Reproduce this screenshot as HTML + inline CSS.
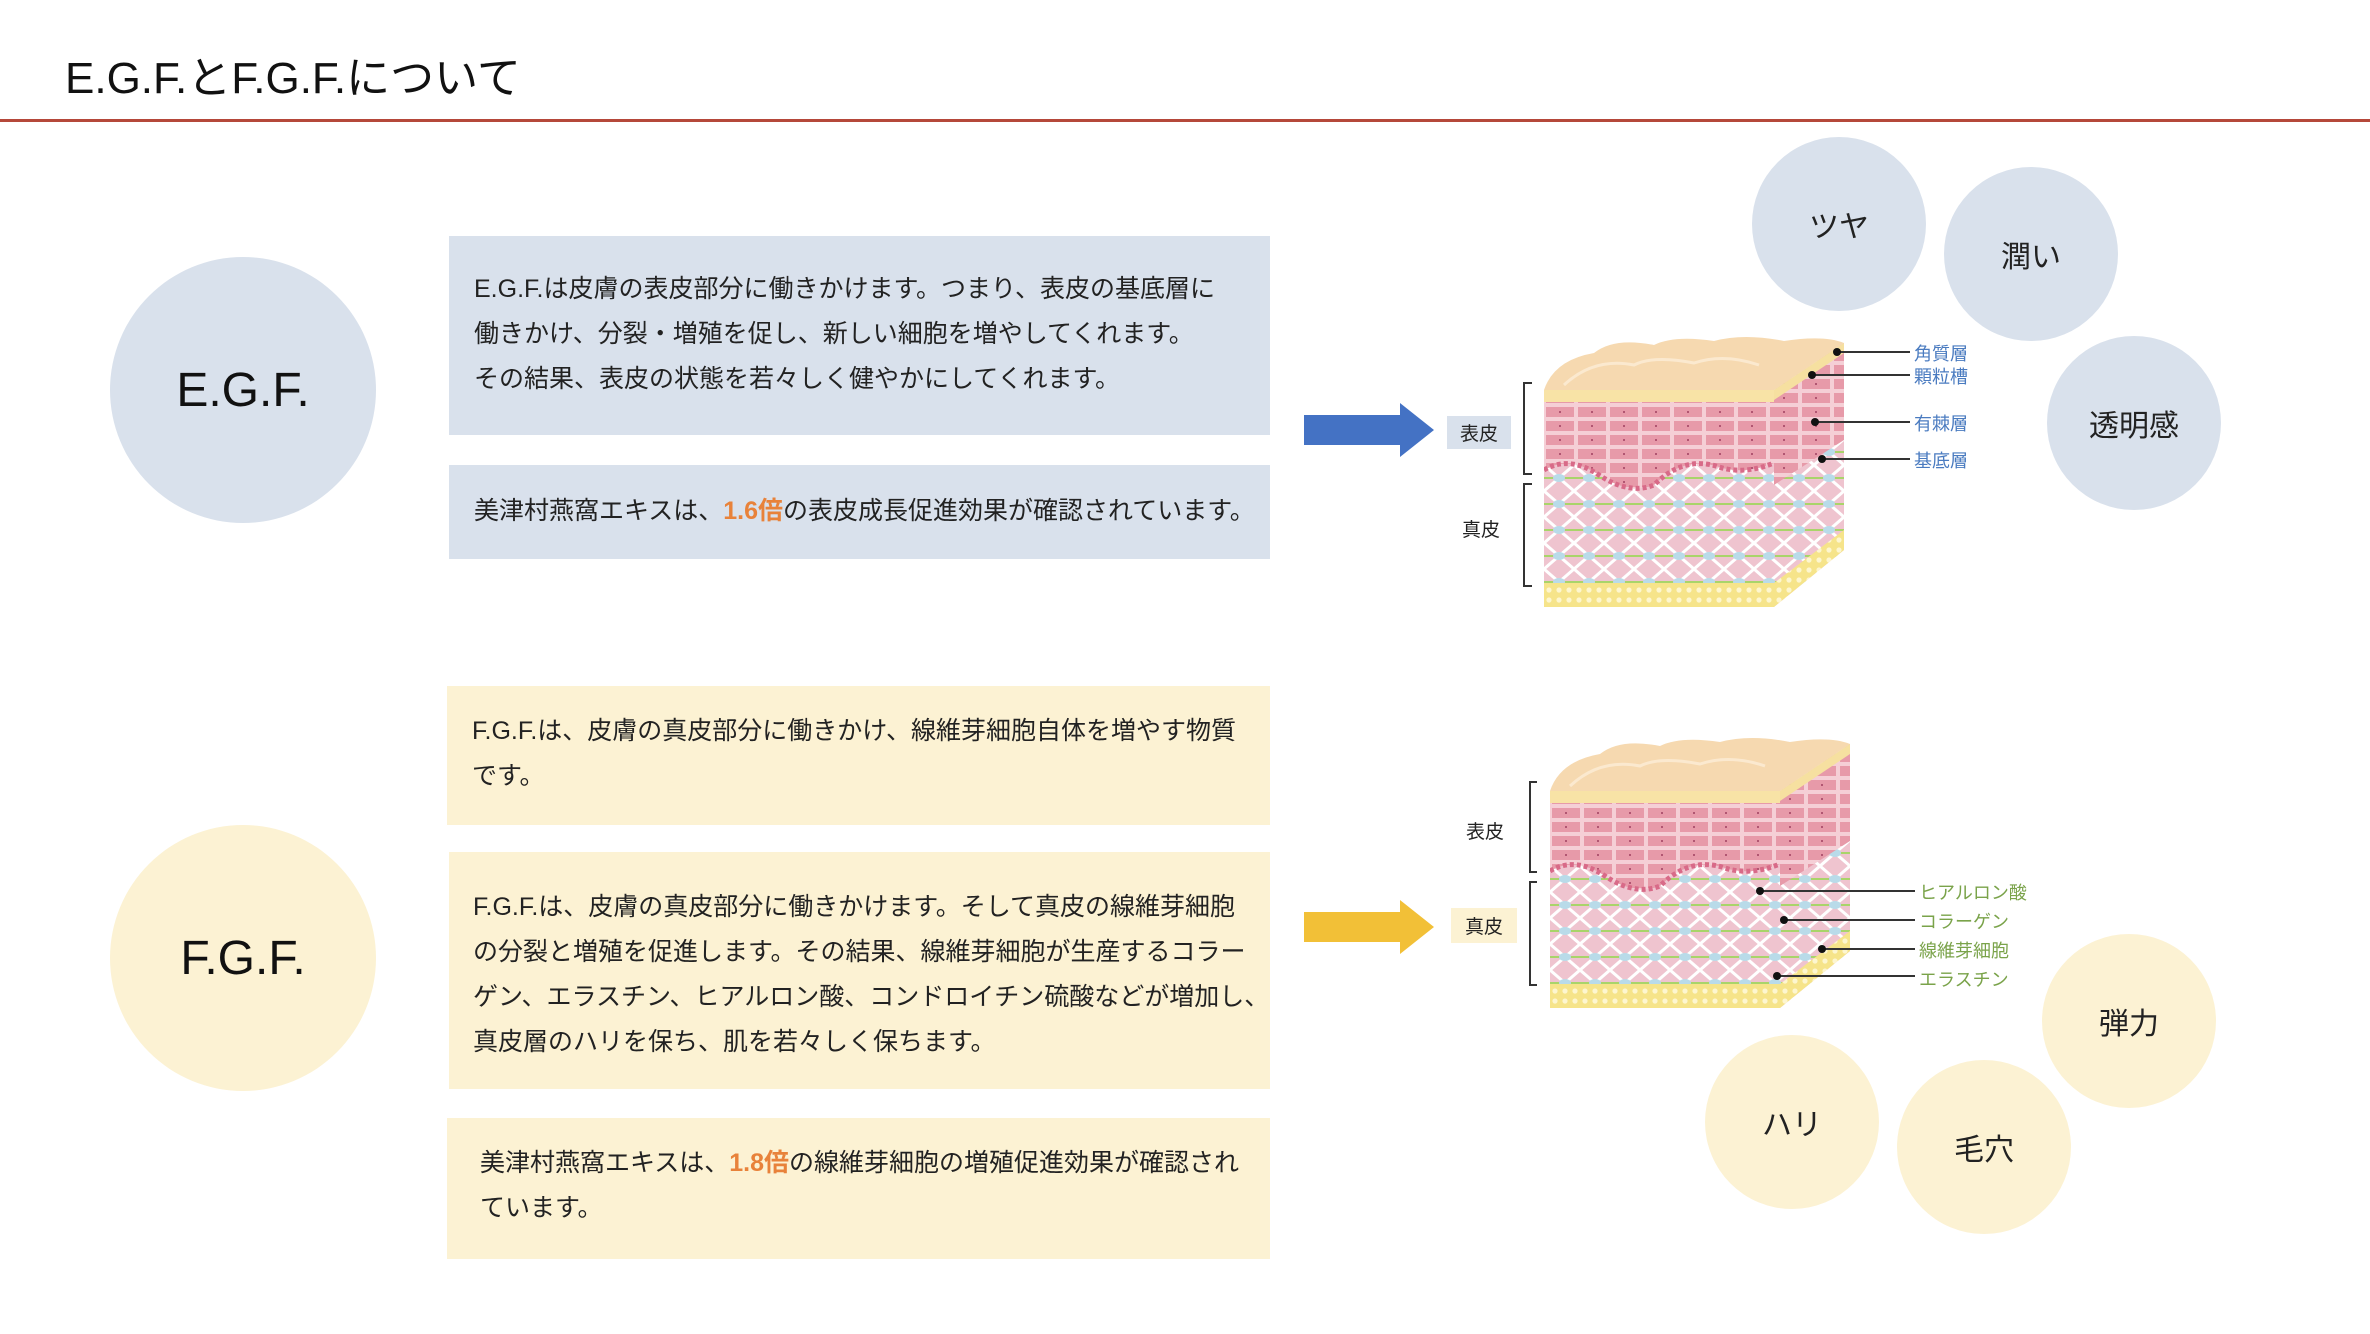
<!DOCTYPE html>
<html><head><meta charset="utf-8">
<style>
html,body{margin:0;padding:0;background:#fff;}
body{width:2370px;height:1334px;position:relative;overflow:hidden;font-family:"Liberation Sans","Noto Sans CJK JP",sans-serif;color:#222;}
.abs{position:absolute;}
.title{left:65px;top:42px;font-size:44px;color:#111;}
.rule{left:0;top:119px;width:2370px;height:3px;background:#b5483a;}
.circ{position:absolute;border-radius:50%;display:flex;align-items:center;justify-content:center;font-size:30px;color:#222;}
.big{font-size:48px;color:#111;}
.b{background:#d9e1ec;}
.y{background:#fcf2d3;}
.box{position:absolute;font-size:25px;line-height:45px;color:#222;box-sizing:border-box;white-space:nowrap;}
.or{color:#e8823a;font-weight:bold;}
.lbl{position:absolute;font-size:19px;}
.tag{position:absolute;font-size:19px;display:flex;align-items:center;justify-content:center;}
</style></head><body>
<div class="abs title">E.G.F.とF.G.F.について</div>
<div class="abs rule"></div>

<div class="circ b big" style="left:110px;top:257px;width:266px;height:266px;">E.G.F.</div>
<div class="circ y big" style="left:110px;top:825px;width:266px;height:266px;">F.G.F.</div>

<div class="box b" style="left:449px;top:236px;width:821px;height:199px;padding:31px 0 0 25px;">E.G.F.は皮膚の表皮部分に働きかけます。つまり、表皮の基底層に<br>働きかけ、分裂・増殖を促し、新しい細胞を増やしてくれます。<br>その結果、表皮の状態を若々しく健やかにしてくれます。</div>
<div class="box b" style="left:449px;top:465px;width:821px;height:94px;padding:24px 0 0 25px;">美津村燕窩エキスは、<span class="or">1.6倍</span>の表皮成長促進効果が確認されています。</div>

<div class="box y" style="left:447px;top:686px;width:823px;height:139px;padding:23px 0 0 25px;">F.G.F.は、皮膚の真皮部分に働きかけ、線維芽細胞自体を増やす物質<br>です。</div>
<div class="box y" style="left:449px;top:852px;width:821px;height:237px;padding:33px 0 0 24px;">F.G.F.は、皮膚の真皮部分に働きかけます。そして真皮の線維芽細胞<br>の分裂と増殖を促進します。その結果、線維芽細胞が生産するコラー<br>ゲン、エラスチン、ヒアルロン酸、コンドロイチン硫酸などが増加し、<br>真皮層のハリを保ち、肌を若々しく保ちます。</div>
<div class="box y" style="left:447px;top:1118px;width:823px;height:141px;padding:23px 0 0 33px;">美津村燕窩エキスは、<span class="or">1.8倍</span>の線維芽細胞の増殖促進効果が確認され<br>ています。</div>

<div class="circ b" style="left:1752px;top:137px;width:174px;height:174px;">ツヤ</div>
<div class="circ b" style="left:1944px;top:167px;width:174px;height:174px;">潤い</div>
<div class="circ b" style="left:2047px;top:336px;width:174px;height:174px;">透明感</div>
<div class="circ y" style="left:2042px;top:934px;width:174px;height:174px;">弾力</div>
<div class="circ y" style="left:1705px;top:1035px;width:174px;height:174px;">ハリ</div>
<div class="circ y" style="left:1897px;top:1060px;width:174px;height:174px;">毛穴</div>

<svg class="abs" style="left:0;top:0" width="2370" height="1334">
<defs>
<pattern id="cells" width="32" height="14" patternUnits="userSpaceOnUse">
<rect width="32" height="14" fill="#f5cfd6"/><rect x="2" y="2" width="28" height="10" fill="#e79aa9"/><circle cx="16" cy="7" r="1" fill="#a04060"/></pattern>
<pattern id="derm" width="30" height="26" patternUnits="userSpaceOnUse">
<rect width="30" height="26" fill="#efc4cf"/><path d="M0 0 L15 13 L30 0 M0 26 L15 13 L30 26" stroke="#fff" stroke-width="3" fill="none"/><line x1="0" y1="13" x2="30" y2="13" stroke="#a9d46a" stroke-width="2"/><ellipse cx="15" cy="13" rx="6" ry="4" fill="#b9dbe9"/></pattern>
<pattern id="fat" width="10" height="10" patternUnits="userSpaceOnUse">
<rect width="10" height="10" fill="#f6e48a"/><circle cx="5" cy="5" r="2.6" fill="#fdf6cf"/></pattern>
<symbol id="skin" viewBox="0 0 300 272" width="300" height="272">
<polygon points="230,55 300,8 300,215 230,272" fill="url(#derm)"/>
<polygon points="230,55 300,8 300,105 230,150" fill="url(#cells)"/>
<polygon points="230,248 300,195 300,215 230,272" fill="url(#fat)"/>
<rect x="0" y="55" width="230" height="195" fill="url(#derm)"/>
<path d="M0 55 H230 V128 Q200 140 175 132 Q140 120 110 150 Q85 160 55 140 Q25 120 0 135 Z" fill="url(#cells)"/>
<path d="M0 135 Q25 120 55 140 Q85 160 110 150 Q140 120 175 132 Q200 140 230 128" stroke="#d86a88" stroke-width="5" stroke-dasharray="4 3" fill="none"/>
<rect x="0" y="55" width="230" height="12" fill="#f8e3a6"/>
<rect x="0" y="248" width="230" height="24" fill="url(#fat)"/>
<path d="M0 55 Q10 25 50 18 Q70 2 110 10 Q130 0 170 6 Q200 -2 240 6 Q280 0 300 8 L230 55 Z" fill="#f6d9b0"/>
<path d="M20 50 Q50 22 90 30 Q110 20 150 28 Q180 18 215 30" stroke="#fbe9cf" stroke-width="3" fill="none"/>
<polygon points="230,55 300,8 300,18 230,65" fill="#f6e0a0"/>
</symbol>
</defs>
<polygon points="1304,415 1400,415 1400,403 1434,430 1400,457 1400,445 1304,445" fill="#4472c4"/>
<polygon points="1304,912 1400,912 1400,900 1434,927 1400,954 1400,942 1304,942" fill="#f2c037"/>
<use href="#skin" x="1544" y="335"/>
<use href="#skin" x="1550" y="736"/>
<g stroke="#333" stroke-width="2" fill="none">
<path d="M1532 383 H1524 V474 H1532 M1532 484 H1524 V586 H1532"/>
<path d="M1537 782 H1530 V872 H1537 M1537 882 H1530 V985 H1537"/>
<path d="M1837 352 H1910 M1812 375 H1910 M1815 422 H1910 M1822 459 H1910"/>
<path d="M1760 891 H1915 M1784 920 H1915 M1822 949 H1915 M1777 976 H1915"/>
</g>
<g fill="#111">
<circle cx="1837" cy="352" r="4"/><circle cx="1812" cy="375" r="4"/><circle cx="1815" cy="422" r="4"/><circle cx="1822" cy="459" r="4"/>
<circle cx="1760" cy="891" r="4"/><circle cx="1784" cy="920" r="4"/><circle cx="1822" cy="949" r="4"/><circle cx="1777" cy="976" r="4"/>
</g>
</svg>
<div class="tag b" style="left:1447px;top:416px;width:64px;height:33px;">表皮</div>
<div class="lbl" style="left:1462px;top:515px;">真皮</div>
<div class="lbl" style="left:1466px;top:817px;">表皮</div>
<div class="tag y" style="left:1451px;top:908px;width:66px;height:35px;">真皮</div>
<div class="lbl" style="left:1914px;top:340px;color:#4a7bc0;font-size:18px;">角質層</div>
<div class="lbl" style="left:1914px;top:363px;color:#4a7bc0;font-size:18px;">顆粒槽</div>
<div class="lbl" style="left:1914px;top:410px;color:#4a7bc0;font-size:18px;">有棘層</div>
<div class="lbl" style="left:1914px;top:447px;color:#4a7bc0;font-size:18px;">基底層</div>
<div class="lbl" style="left:1919px;top:879px;color:#7aa34a;font-size:18px;">ヒアルロン酸</div>
<div class="lbl" style="left:1919px;top:908px;color:#7aa34a;font-size:18px;">コラーゲン</div>
<div class="lbl" style="left:1919px;top:937px;color:#7aa34a;font-size:18px;">線維芽細胞</div>
<div class="lbl" style="left:1919px;top:966px;color:#7aa34a;font-size:18px;">エラスチン</div>
</body></html>
